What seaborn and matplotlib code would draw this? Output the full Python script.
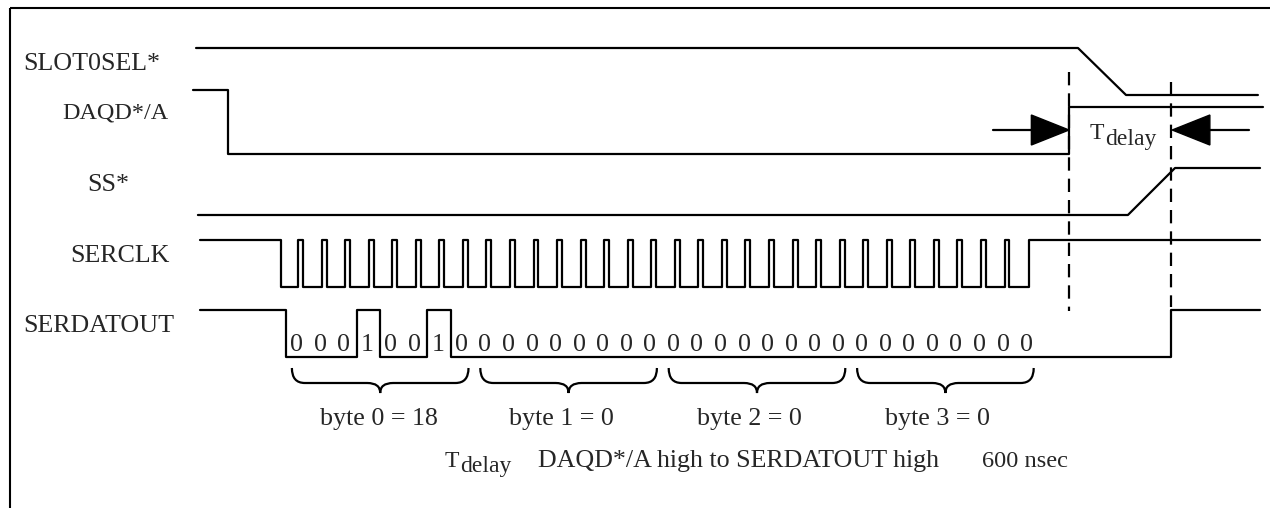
import numpy as np
import pandas as pd
import matplotlib
matplotlib.use("Agg")
import matplotlib.pyplot as plt
import seaborn as sns
from matplotlib.path import Path
from matplotlib.patches import PathPatch, Polygon

# ---------------- data (time in serial-bit periods) ----------------
SIGNALS = ["SLOT0SEL*", "DAQD*/A", "SS*", "SERCLK", "SERDATOUT"]

SLOT0SEL_T = [-3.82, 33.63, 35.67, 41.27]
SLOT0SEL_L = [1, 1, 0, 0]

DAQD_T = [-3.95, -2.46, -2.46, 33.25, 33.25, 41.49]
DAQD_L = [1.36, 1.36, 0, 0, 1, 1]

SS_T = [-3.74, 35.75, 37.75, 41.36]
SS_L = [0, 0, 1, 1]

SERCLK_EDGES = {"start": -3.65, "fall": -0.2, "rise": 31.55, "end": 41.36}
SERCLK_PULSE_OFFSET = 0.51
SERCLK_PULSE_WIDTH = 0.21

SERDAT_BITS = [0, 0, 0, 1, 0, 0, 1, 0,
               0, 0, 0, 0, 0, 0, 0, 0,
               0, 0, 0, 0, 0, 0, 0, 0,
               0, 0, 0, 0, 0, 0, 0, 0]
SERDAT_EDGES = {"start": -3.65, "fall": 0.0, "rise": 37.58, "end": 41.36}

BYTE_LABELS = ["byte 0 = 18", "byte 1 = 0", "byte 2 = 0", "byte 3 = 0"]

TDELAY_START = 33.25   # DAQD*/A high
TDELAY_END = 37.58     # SERDATOUT high
TDELAY_DESC = "DAQD*/A high to SERDATOUT high"
TDELAY_VALUE = "600 nsec"

# ---------------- layout ----------------
W, H = 1270, 508
X0, PX = 286.0, 23.55          # pixel position of t=0 and pixels per bit


def tx(px):
    return (px - X0) / PX


LANE_LOW = {"SLOT0SEL*": 95, "DAQD*/A": 154, "SS*": 215, "SERCLK": 287, "SERDATOUT": 357}
AMP = 47
LABEL_POS = {"SLOT0SEL*": (23, 70, 18.7), "DAQD*/A": (62, 118, 17.4), "SS*": (87, 191, 18.7),
             "SERCLK": (70, 262, 18.7), "SERDATOUT": (23, 332, 18.7)}
LW = 1.6
FONT = "Liberation Serif"

# ---------------- build waveforms ----------------
rows = []


def add(sig, ts, ls):
    for t, l in zip(ts, ls):
        rows.append({"signal": sig, "t": t, "y": LANE_LOW[sig] - l * AMP})


add("SLOT0SEL*", SLOT0SEL_T, SLOT0SEL_L)
add("DAQD*/A", DAQD_T, DAQD_L)
add("SS*", SS_T, SS_L)

# clock: one narrow high pulse per data bit, then returns high after the last bit
ct, cl = [SERCLK_EDGES["start"], SERCLK_EDGES["fall"], SERCLK_EDGES["fall"]], [1, 1, 0]
for k in range(len(SERDAT_BITS) - 1):
    r = k + SERCLK_PULSE_OFFSET
    f = r + SERCLK_PULSE_WIDTH
    ct += [r, r, f, f]
    cl += [0, 1, 1, 0]
ct += [SERCLK_EDGES["rise"], SERCLK_EDGES["rise"], SERCLK_EDGES["end"]]
cl += [0, 1, 1]
add("SERCLK", ct, cl)

dt, dl = [SERDAT_EDGES["start"], SERDAT_EDGES["fall"]], [1, 1]
for k, b in enumerate(SERDAT_BITS):
    dt += [k, k + 1]
    dl += [b, b]
dt += [SERDAT_EDGES["rise"], SERDAT_EDGES["rise"], SERDAT_EDGES["end"]]
dl += [0, 1, 1]
add("SERDATOUT", dt, dl)

df = pd.DataFrame(rows)

# ---------------- draw ----------------
sns.set_style("white")
plt.rcParams["font.family"] = [FONT, "DejaVu Serif"]

fig = plt.figure(figsize=(W / 100, H / 100), dpi=100)
ax = fig.add_axes([0, 0, 1, 1])
sns.lineplot(data=df, x="t", y="y", units="signal", estimator=None, sort=False,
             color="black", lw=LW, legend=False, ax=ax)
ax.set_xlim(tx(0), tx(W))
ax.set_ylim(H, 0)
ax.axis("off")

# frame (top and left)
ax.plot([0.008, 1.0], [1 - 8 / H, 1 - 8 / H], color="black", lw=1.5, transform=ax.transAxes,
        solid_capstyle="butt")
ax.plot([10 / W, 10 / W], [0, 1 - 8 / H], color="black", lw=1.5, transform=ax.transAxes,
        solid_capstyle="butt")

# signal names
for s in SIGNALS:
    x, y, fs = LABEL_POS[s]
    ax.text(tx(x), y, s, fontsize=fs, ha="left", va="baseline")

# bit values
for k, b in enumerate(SERDAT_BITS):
    ax.text(k + 0.45, 351, str(b), fontsize=18.7, ha="center", va="baseline")

# byte braces
y0, y1, y2 = 368, 383, 393
rx = 0.55
for i, lab in enumerate(BYTE_LABELS):
    xl, xr = 8 * i + 0.25, 8 * i + 7.75
    tip = 8 * i + 4.0
    verts = [(xl, y0), (xl, y1), (xl + rx, y1),
             (tip - rx, y1), (tip, y1), (tip, y2),
             (tip, y1), (tip + rx, y1),
             (xr - rx, y1), (xr, y1), (xr, y0)]
    codes = [Path.MOVETO, Path.CURVE3, Path.CURVE3,
             Path.LINETO, Path.CURVE3, Path.CURVE3,
             Path.CURVE3, Path.CURVE3,
             Path.LINETO, Path.CURVE3, Path.CURVE3]
    ax.add_patch(PathPatch(Path(verts, codes), fill=False, lw=LW, edgecolor="black"))
    ax.text(tip - 60 / PX, 425, lab, fontsize=18.7, ha="left", va="baseline")

# dashed reference lines
dash = (0, (6.0, 3.6))
ax.plot([TDELAY_START, TDELAY_START], [72, 311], color="black", lw=LW, ls=dash)
ax.plot([TDELAY_END, TDELAY_END], [82, 307], color="black", lw=LW, ls=dash)

# Tdelay arrows
ay, hh = 130, 15
head, tail = 1.6, 3.25
ax.plot([TDELAY_START - tail, TDELAY_START - head], [ay, ay], color="black", lw=LW)
ax.add_patch(Polygon([(TDELAY_START - head, ay - hh), (TDELAY_START - head, ay + hh),
                      (TDELAY_START, ay)], closed=True, color="black"))
e = TDELAY_END + 0.05
ax.plot([e + tail, e + head], [ay, ay], color="black", lw=LW)
ax.add_patch(Polygon([(e + head, ay - hh), (e + head, ay + hh), (e, ay)],
                     closed=True, color="black"))

ax.text(tx(1090), 139, "T", fontsize=17, ha="left", va="baseline")
ax.text(tx(1105), 145, "delay", fontsize=17, ha="left", va="baseline")

# footnote
ax.text(tx(445), 467, "T", fontsize=17, ha="left", va="baseline")
ax.text(tx(460), 472, "delay", fontsize=17, ha="left", va="baseline")
ax.text(tx(538), 467, TDELAY_DESC, fontsize=18.7, ha="left", va="baseline")
ax.text(tx(982), 467, TDELAY_VALUE, fontsize=17.6, ha="left", va="baseline")

fig.savefig("out.png", dpi=100, facecolor="white")
